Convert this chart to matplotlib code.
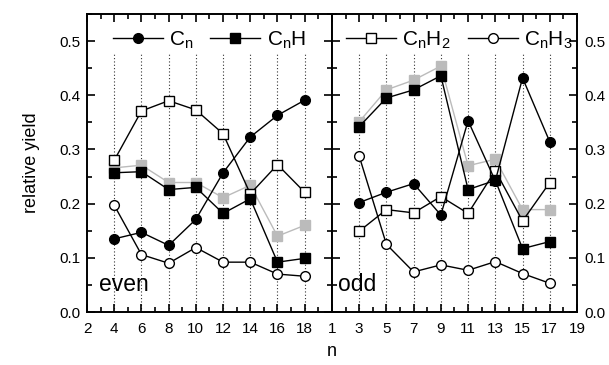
import matplotlib
matplotlib.use('Agg')
import matplotlib.pyplot as plt
from matplotlib.lines import Line2D
from matplotlib.ticker import MultipleLocator

plt.rcParams['font.family'] = ['Liberation Sans', 'DejaVu Sans']
plt.rcParams['mathtext.default'] = 'regular'

# even n (left panel)
n_even = [4, 6, 8, 10, 12, 14, 16, 18]
cn_even = [0.135, 0.147, 0.123, 0.171, 0.257, 0.323, 0.363, 0.391]
cnh_even = [0.257, 0.259, 0.226, 0.230, 0.182, 0.209, 0.092, 0.099]
gray_even = [0.266, 0.271, 0.239, 0.239, 0.211, 0.234, 0.140, 0.160]
cnh2_even = [0.280, 0.371, 0.390, 0.373, 0.329, 0.218, 0.272, 0.221]
cnh3_even = [0.197, 0.106, 0.090, 0.119, 0.092, 0.092, 0.070, 0.066]

# odd n (right panel)
n_odd = [3, 5, 7, 9, 11, 13, 15, 17]
cn_odd = [0.202, 0.221, 0.237, 0.179, 0.353, 0.242, 0.432, 0.314]
cnh_odd = [0.342, 0.395, 0.410, 0.436, 0.226, 0.243, 0.117, 0.130]
gray_odd = [0.351, 0.410, 0.428, 0.454, 0.270, 0.282, 0.189, 0.189]
cnh2_odd = [0.149, 0.189, 0.183, 0.213, 0.182, 0.261, 0.168, 0.239]
cnh3_odd = [0.288, 0.125, 0.074, 0.087, 0.077, 0.093, 0.071, 0.053]

fig = plt.figure(figsize=(6.09, 3.65), dpi=100)
ax1 = fig.add_axes([0.1429, 0.1452, 0.4021, 0.8164])
ax2 = fig.add_axes([0.5450, 0.1452, 0.4025, 0.8164])

ms = 7


def draw(ax, x, cn, cnh, gray, cnh2, cnh3):
    ax.vlines(x, 0, 0.478, colors='#333333', linestyles=(0, (1, 2)), lw=0.8, zorder=1)
    ax.plot(x, gray, '-s', color='#bbbbbb', mfc='#bbbbbb', mec='#bbbbbb', ms=ms, lw=1, zorder=2)
    ax.plot(x, cnh2, '-s', color='k', mfc='white', mec='k', ms=ms, lw=1, zorder=3)
    ax.plot(x, cnh3, '-o', color='k', mfc='white', mec='k', ms=ms, lw=1, zorder=3)
    ax.plot(x, cnh, '-s', color='k', mfc='k', mec='k', ms=ms, lw=1, zorder=4)
    ax.plot(x, cn, '-o', color='k', mfc='k', mec='k', ms=ms, lw=1, zorder=4)
    ax.set_ylim(0, 0.55)
    ax.yaxis.set_major_locator(MultipleLocator(0.1))
    ax.yaxis.set_minor_locator(MultipleLocator(0.05))
    ax.xaxis.set_major_locator(MultipleLocator(2))
    ax.xaxis.set_minor_locator(MultipleLocator(1))
    ax.tick_params(which='both', direction='in', top=True, right=True, left=True,
                   labelsize=11, width=1.2)
    ax.tick_params(axis='x', pad=7)
    ax.tick_params(axis='y', pad=5)
    ax.tick_params(which='major', length=6)
    ax.tick_params(which='minor', length=3.5)
    for s in ax.spines.values():
        s.set_linewidth(1.4)


draw(ax1, n_even, cn_even, cnh_even, gray_even, cnh2_even, cnh3_even)
draw(ax2, n_odd, cn_odd, cnh_odd, gray_odd, cnh2_odd, cnh3_odd)

ax1.set_xlim(2, 20)
ax1.set_xticks(range(2, 19, 2))
ax1.set_yticks([0.0, 0.1, 0.2, 0.3, 0.4, 0.5])
ax1.set_yticklabels(['0.0', '0.1', '0.2', '0.3', '0.4', '0.5'])
ax1.set_ylabel('relative yield', fontsize=13, labelpad=14)

ax2.set_xlim(1, 19)
ax2.set_xticks(range(1, 20, 2))
ax2.tick_params(labelleft=False, labelright=True)
ax2.set_yticks([0.0, 0.1, 0.2, 0.3, 0.4, 0.5])
ax2.set_yticklabels(['0.0', '0.1', '0.2', '0.3', '0.4', '0.5'])

ax1.text(0.05, 0.07, 'even', transform=ax1.transAxes, fontsize=16.5)
ax2.text(0.025, 0.07, 'odd', transform=ax2.transAxes, fontsize=16.5)

fig.text(0.545, 0.025, 'n', fontsize=13, ha='center')


def handle(marker, fc):
    return Line2D([], [], color='k', marker=marker, mfc=fc, mec='k', ms=ms, lw=1)


leg_kw = dict(ncol=2, frameon=False, fontsize=15, handlelength=2.4, handletextpad=0.3,
              columnspacing=0.8, loc='upper center', borderaxespad=0.35)
ax1.legend([handle('o', 'k'), handle('s', 'k')], ['$C_n$', '$C_nH$'],
           bbox_to_anchor=(0.5, 1.0), **leg_kw)
ax2.legend([handle('s', 'white'), handle('o', 'white')], ['$C_nH_2$', '$C_nH_3$'],
           bbox_to_anchor=(0.52, 1.0), **leg_kw)

fig.savefig('out.png', dpi=100)
